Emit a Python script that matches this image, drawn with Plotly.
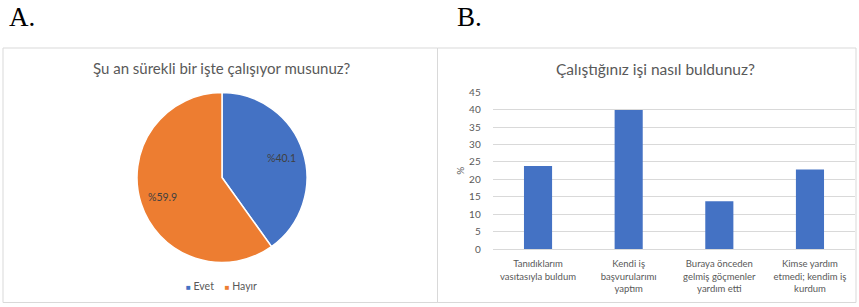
import math
import plotly.graph_objects as go

# ---- data ----
pie_labels = ["Evet", "Hayır"]
pie_values = [40.1, 59.9]
pie_colors = ["#4472C4", "#ED7D31"]

bar_categories = [
    "Tanıdıklarım<br>vasıtasıyla buldum",
    "Kendi iş<br>başvurularımı<br>yaptım",
    "Buraya önceden<br>gelmiş göçmenler<br>yardım etti",
    "Kimse yardım<br>etmedi; kendim iş<br>kurdum",
]
bar_values = [23.8, 39.9, 13.7, 22.8]
y_ticks = [0, 5, 10, 15, 20, 25, 30, 35, 40, 45]

pie_title = "Şu an sürekli bir işte çalışıyor musunuz?"
bar_title = "Çalıştığınız işi nasıl buldunuz?"

W, H = 859, 307
FONT = "Lato"
GREY = "#595959"

def px(x):
    return x / W

def py(y):
    return (H - y) / H

PIE_CX, PIE_CY, PIE_R = 222, 177.5, 85

fig = go.Figure()

fig.add_trace(go.Pie(
    labels=pie_labels,
    values=pie_values,
    marker=dict(colors=pie_colors, line=dict(color="white", width=1.5)),
    sort=False,
    direction="clockwise",
    rotation=0,
    textinfo="none",
    domain=dict(x=[px(PIE_CX - PIE_R), px(PIE_CX + PIE_R)],
                y=[py(PIE_CY + PIE_R), py(PIE_CY - PIE_R)]),
    showlegend=False,
    hoverinfo="label+value",
))

fig.add_trace(go.Bar(
    x=bar_categories,
    y=bar_values,
    marker=dict(color="#4472C4", line=dict(width=0)),
    showlegend=False,
))

# data labels of the pie, placed along each slice's bisector (derived from values)
pie_label_annots = []
total = sum(pie_values)
cum = 0.0
for lab, v in zip(pie_labels, pie_values):
    mid = (cum + v / 2) / total * 2 * math.pi  # clockwise from 12 o'clock
    cum += v
    rr = 0.74 * PIE_R
    lx = PIE_CX + rr * math.sin(mid)
    ly = PIE_CY - rr * math.cos(mid)
    pie_label_annots.append(dict(
        text="%" + f"{v:.1f}", x=px(lx), y=py(ly), xref="paper", yref="paper",
        xanchor="center", yanchor="middle", showarrow=False,
        font=dict(family=FONT, size=10.5, color="#404040")))

fig.update_layout(
    template="none",
    width=W, height=H,
    autosize=False,
    margin=dict(l=0, r=0, t=0, b=0, pad=0, autoexpand=False),
    paper_bgcolor="white",
    plot_bgcolor="white",
    bargap=0.69,
    font=dict(family=FONT, color=GREY),
    xaxis=dict(
        domain=[px(492.7), px(855.3)],
        automargin=False,
        showgrid=False,
        showline=True, linecolor="#d9d9d9", linewidth=1,
        ticks="outside", ticklen=6, tickcolor="rgba(0,0,0,0)",
        tickfont=dict(family=FONT, size=9.5, color=GREY),
        tickangle=0,
        anchor="y",
    ),
    yaxis=dict(
        domain=[py(249), py(92.3)],
        automargin=False,
        range=[0, 45],
        tickvals=y_ticks,
        showgrid=True, gridcolor="#d9d9d9", gridwidth=1,
        zeroline=False,
        showline=False,
        ticks="outside", ticklen=9, tickcolor="rgba(0,0,0,0)",
        tickfont=dict(family=FONT, size=10, color=GREY),
        title=dict(text="%", font=dict(family=FONT, size=10, color=GREY), standoff=2),
        anchor="x",
    ),
    shapes=[
        dict(type="rect", xref="paper", yref="paper",
             x0=px(3), x1=px(437.5), y0=py(302.5), y1=py(48),
             line=dict(color="#d9d9d9", width=1), fillcolor="rgba(0,0,0,0)", layer="below"),
        dict(type="rect", xref="paper", yref="paper",
             x0=px(437.5), x1=px(856), y0=py(302.5), y1=py(48),
             line=dict(color="#d9d9d9", width=1), fillcolor="rgba(0,0,0,0)", layer="below"),
    ],
    annotations=[
        dict(text="A.", x=px(7), y=1, xref="paper", yref="paper",
             xanchor="left", yanchor="top", showarrow=False,
             font=dict(family="Liberation Serif", size=27, color="black")),
        dict(text="B.", x=px(455), y=1, xref="paper", yref="paper",
             xanchor="left", yanchor="top", showarrow=False,
             font=dict(family="Liberation Serif", size=27, color="black")),
        dict(text=pie_title, x=px(222), y=py(68), xref="paper", yref="paper",
             xanchor="center", yanchor="middle", showarrow=False,
             font=dict(family=FONT, size=15, color=GREY)),
        dict(text=bar_title, x=px(655), y=py(69), xref="paper", yref="paper",
             xanchor="center", yanchor="middle", showarrow=False,
             font=dict(family=FONT, size=15.5, color=GREY)),
        dict(text=("<span style='color:%s;font-size:8px'>■</span> %s    "
                   "<span style='color:%s;font-size:8px'>■</span> %s")
             % (pie_colors[0], pie_labels[0], pie_colors[1], pie_labels[1]),
             x=px(222), y=py(286), xref="paper", yref="paper",
             xanchor="center", yanchor="middle", showarrow=False,
             font=dict(family=FONT, size=10.5, color=GREY)),
    ] + pie_label_annots,
)

fig.write_html("out.html", config={"displayModeBar": False},
               post_script="document.body.style.margin='0';")
